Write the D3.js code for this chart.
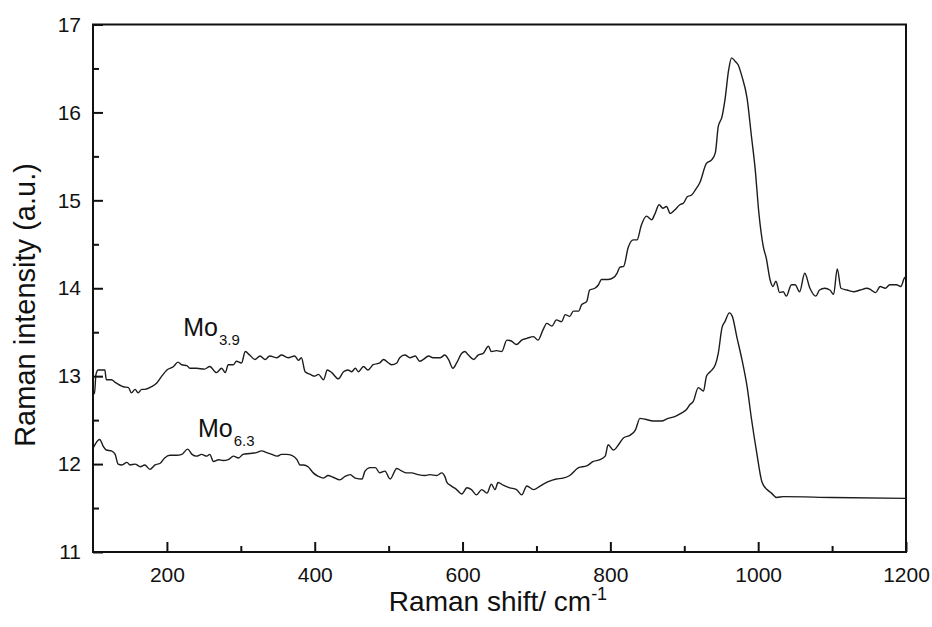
<!DOCTYPE html>
<html>
<head>
<meta charset="utf-8">
<script src="https://cdn.jsdelivr.net/npm/d3@7/dist/d3.min.js"></script>
<style>
  html, body { margin: 0; padding: 0; background: #fff; }
  svg { display: block; font-family: "Liberation Sans", Arial, Helvetica, sans-serif; }
</style>
</head>
<body>
<svg id="chart" width="932" height="627"></svg>
<script>
// ---- Data ----
const shiftMo39 = [100,102,104,107,116,118,125,130,141,148,152,157,161,166,170,179,186,193,200,209,215,220,227,231,240,251,258,267,274,279,283,290,294,301,306,312,319,326,333,339,349,355,364,373,378,382,387,394,400,405,412,417,423,432,439,445,450,455,459,466,472,479,488,493,500,504,511,515,522,529,536,542,547,554,560,570,576,581,587,592,599,603,608,615,621,628,635,639,646,653,660,666,673,680,687,696,702,709,714,721,727,734,739,745,750,757,761,768,772,779,784,788,797,804,809,813,818,824,831,836,842,849,856,860,866,871,876,881,887,894,899,904,910,915,921,930,937,942,946,951,955,960,964,969,973,978,985,991,996,1001,1007,1011,1016,1020,1024,1029,1034,1038,1045,1050,1056,1063,1070,1078,1083,1090,1097,1102,1107,1112,1120,1129,1138,1147,1153,1159,1165,1172,1178,1187,1193,1198,1200];
const intensityMo39 = [12.85,12.80,13.02,13.07,13.07,12.96,12.96,12.93,12.88,12.87,12.81,12.85,12.81,12.85,12.85,12.88,12.92,13.00,13.07,13.11,13.16,13.13,13.12,13.09,13.09,13.08,13.11,13.04,13.09,13.04,13.13,13.13,13.17,13.15,13.28,13.24,13.19,13.23,13.19,13.23,13.21,13.24,13.21,13.23,13.18,13.21,13.05,13.02,13.00,13.02,12.96,13.07,13.04,12.97,13.05,13.07,13.05,13.09,13.05,13.11,13.07,13.13,13.15,13.19,13.15,13.13,13.15,13.21,13.24,13.21,13.23,13.17,13.19,13.23,13.21,13.21,13.24,13.19,13.09,13.15,13.26,13.28,13.24,13.19,13.24,13.26,13.34,13.28,13.29,13.28,13.41,13.40,13.36,13.41,13.43,13.45,13.41,13.53,13.60,13.57,13.64,13.62,13.70,13.68,13.74,13.74,13.81,13.85,13.98,14.00,14.04,14.10,14.10,14.12,14.17,14.24,14.25,14.46,14.55,14.55,14.72,14.82,14.78,14.84,14.95,14.91,14.93,14.85,14.89,14.95,14.97,15.04,15.06,15.12,15.20,15.42,15.46,15.54,15.84,15.95,16.14,16.48,16.62,16.58,16.54,16.41,16.16,15.72,15.35,14.85,14.47,14.34,14.10,14.02,14.08,13.95,13.96,13.91,14.04,14.04,13.96,14.17,14.00,13.91,13.98,14.00,13.98,13.93,14.22,14.00,13.98,13.96,13.98,14.00,13.98,13.95,14.02,14.00,14.04,14.04,14.02,14.12,14.13];

const shiftMo63 = [100,109,114,118,125,130,134,139,146,150,157,164,170,177,184,191,197,204,213,220,228,234,240,247,254,258,263,270,276,283,290,297,303,312,321,328,335,342,349,355,362,369,376,380,385,391,398,405,412,418,425,434,441,448,455,464,468,475,482,488,495,502,511,518,524,531,540,549,556,565,572,576,579,585,592,599,606,612,619,626,633,639,644,648,655,664,673,680,687,696,705,716,727,736,745,757,768,777,786,793,797,804,811,818,827,834,840,847,858,869,878,887,896,903,908,912,919,926,930,935,942,946,951,955,961,965,971,978,985,991,998,1005,1012,1018,1025,1034,1100,1200];
const intensityMo63 = [12.18,12.28,12.20,12.16,12.15,12.11,12.00,11.99,12.02,11.99,12.00,11.97,11.99,11.94,11.99,12.01,12.07,12.10,12.10,12.11,12.17,12.11,12.09,12.11,12.09,12.11,12.03,12.05,12.04,12.05,12.09,12.07,12.11,12.12,12.13,12.15,12.13,12.11,12.09,12.11,12.11,12.10,12.05,11.99,11.99,11.97,11.90,11.86,11.84,11.87,11.85,11.82,11.86,11.88,11.84,11.83,11.92,11.96,11.96,11.90,11.92,11.83,11.95,11.92,11.90,11.90,11.88,11.87,11.88,11.87,11.90,11.86,11.79,11.75,11.71,11.66,11.73,11.71,11.65,11.71,11.67,11.77,11.71,11.79,11.76,11.73,11.71,11.65,11.75,11.71,11.75,11.80,11.83,11.84,11.87,11.96,11.98,12.03,12.05,12.09,12.22,12.16,12.22,12.30,12.33,12.39,12.52,12.51,12.49,12.49,12.52,12.54,12.58,12.62,12.68,12.71,12.87,12.83,13.00,13.05,13.13,13.26,13.55,13.62,13.72,13.68,13.45,13.19,12.88,12.51,12.13,11.80,11.71,11.67,11.62,11.63,11.62,11.61];

const xMajorTicks = [200, 400, 600, 800, 1000, 1200];
const xMinorTicks = [300, 500, 700, 900, 1100];
const yMajorTicks = [11, 12, 13, 14, 15, 16, 17];
const yMinorTicks = [11.5, 12.5, 13.5, 14.5, 15.5, 16.5];

const xTitle = "Raman shift/ cm";
const xTitleSup = "-1";
const yTitle = "Raman intensity (a.u.)";
const seriesLabels = [
  { main: "Mo", sub: "3.9", at: [222, 13.46] },
  { main: "Mo", sub: "6.3", at: [242, 12.31] }
];

// ---- Layout ----
const svg = d3.select("#chart");
const L = 93, R = 906, T = 24.5, B = 552;
const x = d3.scaleLinear().domain([100, 1200]).range([L, R]);
const y = d3.scaleLinear().domain([11, 17]).range([B, T]);

const ink = "#111";

// Curves
const line = d3.line().x(d => x(d[0])).y(d => y(d[1])).curve(d3.curveMonotoneX);
const s1 = shiftMo39.map((v, i) => [v, intensityMo39[i]]);
const s2 = shiftMo63.map((v, i) => [v, intensityMo63[i]]);
[s1, s2].forEach(s => {
  svg.append("path").datum(s)
    .attr("d", line)
    .attr("fill", "none")
    .attr("stroke", "#1c1c1c")
    .attr("stroke-width", 1.4)
    .attr("stroke-linejoin", "round");
});

// Axes
function styleAxis(g) {
  g.select(".domain").remove();
  g.selectAll(".tick line").attr("stroke", ink).attr("stroke-width", 2);
  g.selectAll(".tick text").attr("fill", ink).style("font-size", "21px")
    .style("font-family", '"Liberation Sans", Arial, sans-serif');
}
svg.append("g").attr("transform", `translate(0,${B})`)
  .call(d3.axisBottom(x).tickValues(xMajorTicks).tickSize(-10).tickPadding(15).tickFormat(d3.format("d")))
  .call(styleAxis);
svg.append("g").attr("transform", `translate(0,${B})`)
  .call(d3.axisBottom(x).tickValues(xMinorTicks).tickSize(-6).tickFormat(""))
  .call(styleAxis);
svg.append("g").attr("transform", `translate(${L},0)`)
  .call(d3.axisLeft(y).tickValues(yMajorTicks).tickSize(-10).tickPadding(12).tickFormat(d3.format("d")))
  .call(styleAxis);
svg.append("g").attr("transform", `translate(${L},0)`)
  .call(d3.axisLeft(y).tickValues(yMinorTicks).tickSize(-6).tickFormat(""))
  .call(styleAxis);

// Frame
svg.append("rect")
  .attr("x", L).attr("y", T).attr("width", R - L).attr("height", B - T)
  .attr("fill", "none").attr("stroke", ink).attr("stroke-width", 2);

// Titles
const xt = svg.append("text")
  .attr("x", 498).attr("y", 611)
  .attr("text-anchor", "middle")
  .attr("fill", ink)
  .style("font-size", "28px");
xt.append("tspan").text(xTitle);
xt.append("tspan").text(xTitleSup).attr("dy", -11).style("font-size", "18px");

svg.append("text")
  .attr("transform", "translate(35,305) rotate(-90)")
  .attr("text-anchor", "middle")
  .attr("fill", ink)
  .style("font-size", "29px")
  .text(yTitle);

// Series labels
seriesLabels.forEach(lb => {
  const t = svg.append("text")
    .attr("x", x(lb.at[0])).attr("y", y(lb.at[1]))
    .attr("fill", ink)
    .style("font-size", "25px");
  t.append("tspan").text(lb.main);
  t.append("tspan").text(lb.sub).attr("dy", 9).attr("dx", 1).style("font-size", "15px");
});
</script>
</body>
</html>
